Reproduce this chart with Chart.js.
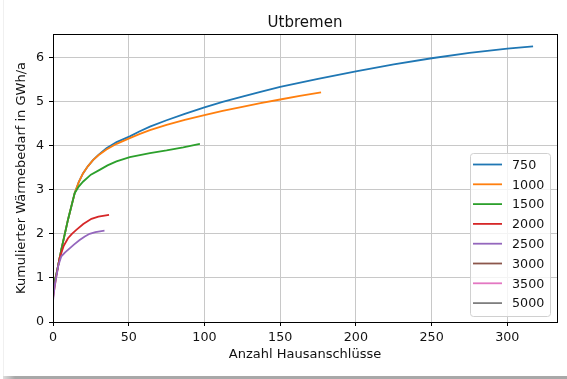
<!DOCTYPE html>
<html>
<head>
<meta charset="utf-8">
<script src="https://cdn.jsdelivr.net/npm/chart.js@4/dist/chart.umd.min.js"></script>
<style>
    body { margin: 0; background: #fff; }
    #wrap { position: relative; width: 567px; height: 379px; }
    #frameBottom { position: absolute; left: 3px; right: 0; top: 376px; height: 3px; background: linear-gradient(to right, #ddd, #a8a8a8 12px, #a8a8a8); }
    #frameLeft { position: absolute; left: 3px; top: 0; width: 1px; height: 376px; background: #f0f0f0; }
</style>
</head>
<body>
<div id="wrap">
    <canvas id="myChart" width="567" height="379"></canvas>
    <div id="frameLeft"></div>
    <div id="frameBottom"></div>
</div>
<script>
// values
const seriesLabels = ['750', '1000', '1500', '2000', '2500', '3000', '3500', '5000'];
const seriesColors = ['#1f77b4', '#ff7f0e', '#2ca02c', '#d62728', '#9467bd', '#8c564b', '#e377c2', '#7f7f7f'];

const x750 = [0, 2.2, 5.5, 9.9, 12.1, 14.3, 17, 19.8, 23, 26.4, 30, 35.3, 42, 50.7, 57, 64, 75, 87, 100, 112, 125, 137, 150, 175, 200, 225, 250, 275, 300, 317];
const y750 = [0.78, 1.08, 1.64, 2.32, 2.62, 2.92, 3.17, 3.37, 3.53, 3.67, 3.79, 3.94, 4.08, 4.21, 4.32, 4.43, 4.575, 4.72, 4.865, 4.99, 5.11, 5.22, 5.33, 5.51, 5.68, 5.84, 5.98, 6.10, 6.20, 6.25];

const x1000 = [0, 2.2, 5.5, 9.9, 12.1, 14.3, 17, 19.8, 23, 26.4, 30, 35.3, 42, 50.7, 57, 64, 75, 87, 100, 112, 125, 137, 150, 163, 177];
const y1000 = [0.78, 1.08, 1.64, 2.32, 2.62, 2.92, 3.17, 3.37, 3.53, 3.67, 3.78, 3.91, 4.04, 4.17, 4.26, 4.35, 4.47, 4.585, 4.69, 4.785, 4.88, 4.965, 5.045, 5.125, 5.205];

const x1500 = [0, 2.2, 5.5, 9.9, 12.1, 14.3, 17, 19.8, 25, 30.8, 36, 41.9, 50.7, 64, 75, 86, 97];
const y1500 = [0.78, 1.08, 1.64, 2.32, 2.62, 2.92, 3.07, 3.18, 3.34, 3.45, 3.55, 3.64, 3.74, 3.83, 3.89, 3.96, 4.04];

const x2000 = [0, 2, 4.4, 7, 9.9, 12.5, 15.4, 20, 25.4, 30, 37];
const y2000 = [0.55, 1.0, 1.45, 1.72, 1.90, 2.00, 2.09, 2.22, 2.34, 2.39, 2.43];

const x2500 = [0, 1, 2.2, 3.5, 5.5, 8, 11, 14, 17.6, 21, 24.2, 28, 34];
const y2500 = [0.47, 0.8, 1.03, 1.28, 1.49, 1.58, 1.67, 1.76, 1.86, 1.94, 2.00, 2.04, 2.07];

const xData = [x750, x1000, x1500, x2000, x2500, [], [], []];
const yData = [y750, y1000, y1500, y2000, y2500, [], [], []];

const xTicksMax = 332.8;
const yTicksMax = 6.53;

const FONT = 'DejaVu Sans';

function buildDatasets() {
    let datasets = [];
    for (let i = 0; i < seriesLabels.length; i++) {
        let pts = xData[i].map((x, j) => ({ x: x, y: yData[i][j] }));
        datasets.push({
            label: seriesLabels[i],
            data: pts,
            borderColor: seriesColors[i],
            backgroundColor: seriesColors[i],
            borderWidth: 1.8,
            pointRadius: 0,
            fill: false,
            tension: 0,
            order: -i
        });
    }
    return datasets;
}

// title, top/right spines and the legend box, drawn like matplotlib
const extras = {
    id: 'extras',
    afterDraw(chart) {
        const ctx = chart.ctx;
        const a = chart.chartArea;
        ctx.save();

        ctx.strokeStyle = '#000';
        ctx.lineWidth = 1;
        ctx.strokeRect(Math.round(a.left) + 0.5, Math.round(a.top) + 0.5, Math.round(a.right - a.left), Math.round(a.bottom - a.top));

        ctx.fillStyle = '#111';
        ctx.font = '15px "' + FONT + '"';
        ctx.textAlign = 'center';
        ctx.textBaseline = 'alphabetic';
        ctx.fillText('Utbremen', (a.left + a.right) / 2, 26.5);

        // legend
        const bx = 470, by = 153, bw = 80, bh = 163;
        ctx.beginPath();
        ctx.roundRect(bx + 0.5, by + 0.5, bw, bh, 3);
        ctx.fillStyle = 'rgba(255,255,255,0.8)';
        ctx.fill();
        ctx.strokeStyle = '#d0d0d0';
        ctx.stroke();

        ctx.font = '12.7px "' + FONT + '"';
        ctx.textAlign = 'left';
        ctx.textBaseline = 'middle';
        for (let i = 0; i < seriesLabels.length; i++) {
            let ry = 164.5 + i * 19.8;
            ctx.strokeStyle = seriesColors[i];
            ctx.lineWidth = 1.8;
            ctx.beginPath();
            ctx.moveTo(473, ry);
            ctx.lineTo(502, ry);
            ctx.stroke();
            ctx.fillStyle = '#111';
            ctx.fillText(seriesLabels[i], 512, ry + 1);
        }
        ctx.restore();
    }
};

const ctx = document.getElementById('myChart').getContext('2d');
const myChart = new Chart(ctx, {
    type: 'line',
    data: {
        datasets: buildDatasets()
    },
    options: {
        responsive: false,
        animation: false,
        layout: {
            padding: { top: 34, right: 10, left: 0, bottom: 0 }
        },
        plugins: {
            legend: { display: false },
            tooltip: { enabled: false }
        },
        scales: {
            x: {
                type: 'linear',
                min: 0,
                max: xTicksMax,
                afterFit: (scale) => { scale.height = 57; },
                title: {
                    display: true,
                    text: 'Anzahl Hausanschlüsse',
                    color: '#111',
                    font: { family: FONT, size: 13 },
                    padding: { top: 0, bottom: 16.2 }
                },
                grid: {
                    color: '#c8c8c8',
                    lineWidth: 1,
                    tickColor: '#000',
                    tickLength: 4
                },
                border: { color: '#000' },
                ticks: {
                    stepSize: 50,
                    includeBounds: false,
                    maxRotation: 0,
                    padding: 4,
                    color: '#111',
                    font: { family: FONT, size: 12.7 }
                }
            },
            y: {
                min: 0,
                max: yTicksMax,
                afterFit: (scale) => { scale.width = 53; },
                title: {
                    display: true,
                    text: 'Kumulierter Wärmebedarf in GWh/a',
                    color: '#111',
                    font: { family: FONT, size: 13 },
                    padding: { top: 13.7, bottom: 0 }
                },
                grid: {
                    color: '#c8c8c8',
                    lineWidth: 1,
                    tickColor: '#000',
                    tickLength: 4
                },
                border: { color: '#000' },
                ticks: {
                    stepSize: 1,
                    includeBounds: false,
                    padding: 5,
                    color: '#111',
                    font: { family: FONT, size: 12.7 }
                }
            }
        }
    },
    plugins: [extras]
});
</script>
</body>
</html>
